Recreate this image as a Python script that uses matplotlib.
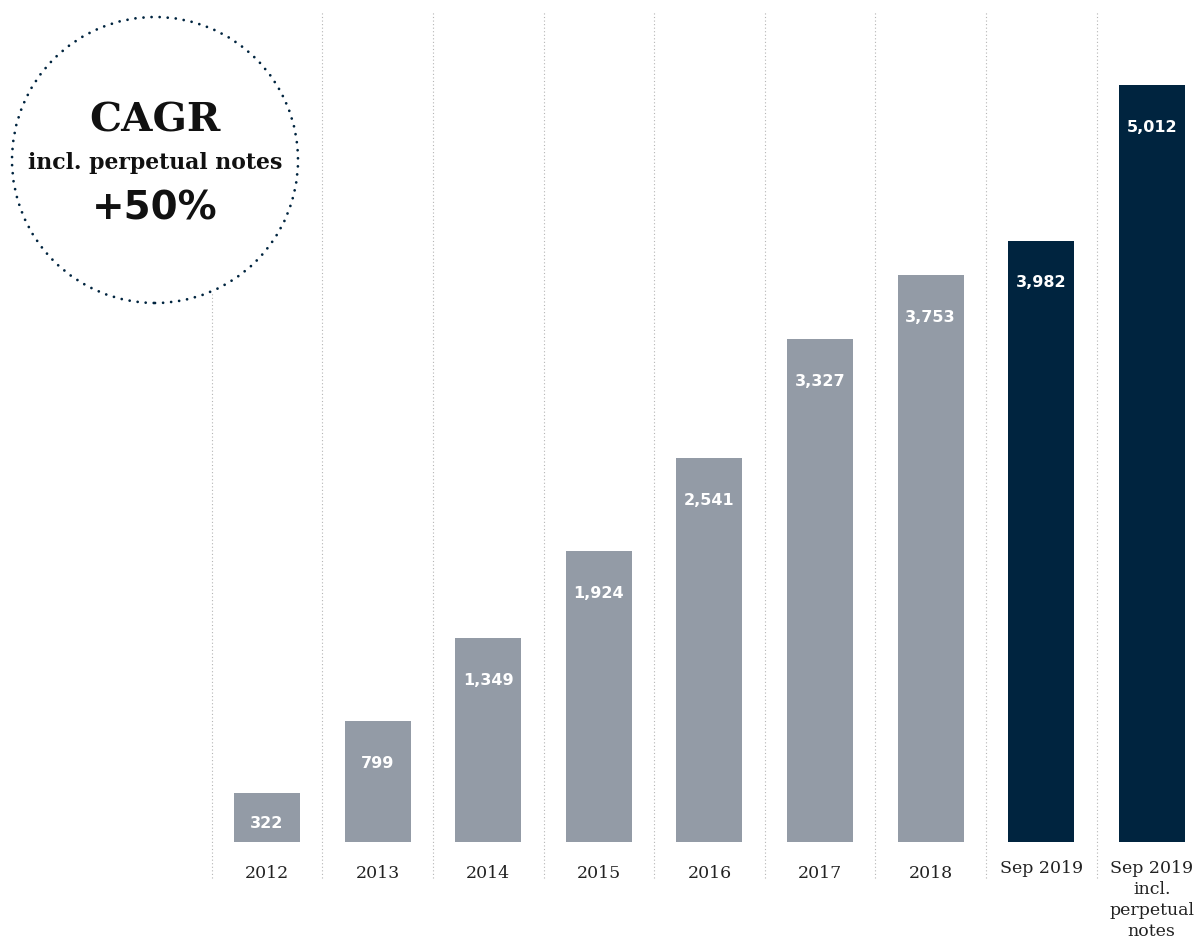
import matplotlib
matplotlib.use("Agg")
import matplotlib.pyplot as plt
from matplotlib.patches import Ellipse

categories = ["2012", "2013", "2014", "2015", "2016", "2017", "2018",
              "Sep 2019", "Sep 2019\nincl.\nperpetual\nnotes"]
values = [322, 799, 1349, 1924, 2541, 3327, 3753, 3982, 5012]
labels = ["322", "799", "1,349", "1,924", "2,541", "3,327", "3,753", "3,982", "5,012"]
colors = ["#939ba6"] * 7 + ["#00243f"] * 2

W, H = 1200, 942
fig = plt.figure(figsize=(W / 100, H / 100), dpi=100)
ax = fig.add_axes([0, 0, 1, 1])
ax.set_axis_off()

step = 110.6          # px between bar centres
x0 = 267              # px of first bar centre
base = 100            # px of baseline from bottom
scale = 757 / 5012    # px per unit

ax.set_xlim(-x0 / step, (W - x0) / step)
ax.set_ylim(-base / scale, (H - base) / scale)

xs = list(range(len(values)))
ax.bar(xs, values, width=66 / step, color=colors, zorder=2)

off = 42 / scale
floor = 19 / scale
for x, v, t in zip(xs, values, labels):
    ax.text(x, max(v - off, floor), t, ha="center", va="center", color="white",
            fontsize=11.5, fontweight="bold", family="DejaVu Sans", zorder=3)

for x, c in zip(xs, categories):
    if "\n" in c:
        ax.text(x, -18 / scale, c, ha="center", va="top", fontsize=12.5,
                family="DejaVu Serif", color="#222222", linespacing=1.3)
    elif c.startswith("Sep"):
        ax.text(x, -18 / scale, c, ha="center", va="top", fontsize=12.5,
                family="DejaVu Serif", color="#222222")
    else:
        ax.text(x, -32 / scale, c, ha="center", va="center", fontsize=12.5,
                family="DejaVu Serif", color="#222222")

# dotted separators
for i in range(len(values)):
    xsep = i - 0.5
    top = 12 if i > 0 else 293
    ax.axvline(xsep, ymin=(H - 878) / H, ymax=(H - top) / H, color="#b5b5b5",
               lw=0.8, ls=(0, (1, 2.2)), zorder=1)

# CAGR circle
cx, cy, r = 155, 160, 143
circ = Ellipse((cx / W, 1 - cy / H), 2 * r / W, 2 * r / H,
               transform=fig.transFigure, fill=False, edgecolor="#00243f",
               lw=2.0, ls=(0, (0.01, 2.9)), capstyle="round", zorder=4)
fig.patches.append(circ)

fig.text(cx / W, 1 - 120 / H, "CAGR", ha="center", va="center",
         fontsize=29, fontweight="bold", family="DejaVu Serif", color="#111111")
fig.text(cx / W, 1 - 163 / H, "incl. perpetual notes", ha="center", va="center",
         fontsize=15.8, fontweight="bold", family="DejaVu Serif", color="#111111")
fig.text(cx / W, 1 - 208 / H, "+50%", ha="center", va="center",
         fontsize=28, fontweight="bold", family="DejaVu Sans", color="#111111")

fig.savefig("out.png", dpi=100, facecolor="white")
